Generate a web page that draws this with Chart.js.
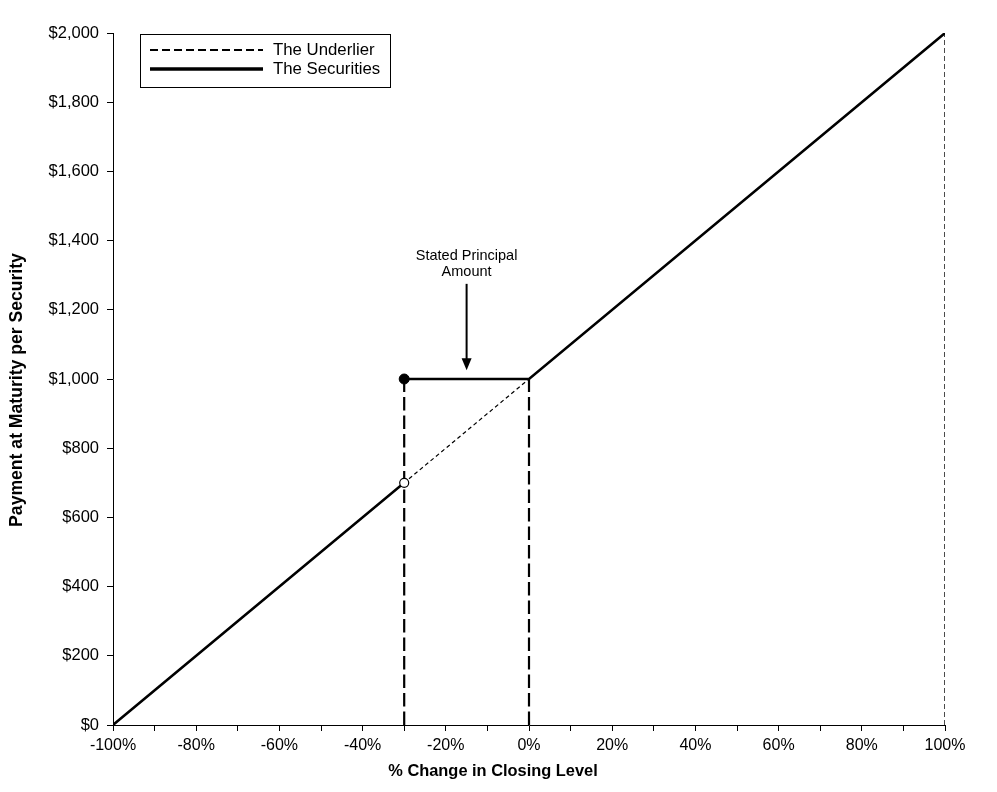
<!DOCTYPE html>
<html>
<head>
<meta charset="utf-8">
<script src="https://cdn.jsdelivr.net/npm/chart.js@4.4.1/dist/chart.umd.min.js"></script>
<style>
body { margin: 0; background: #fff; }
#wrap { width: 997px; height: 792px; position: relative; }
</style>
</head>
<body>
<div id="wrap"><canvas id="payoffChart"></canvas></div>
<script>
// % change in closing level of the underlier
const underlierX = [-100, -30, 0, 100];
const underlierY = [0, 700, 1000, 2000];

// payment at maturity per security (null = jump at the buffer)
const securitiesX = [-100, -30, -30, -30, 0, 100];
const securitiesY = [0, 700, null, 1000, 1000, 2000];

// guide lines (x position, top value)
const guideX = [-30, 0];
const guideTop = [1000, 1000];
const rightEdgeX = [100, 100];
const rightEdgeY = [0, 2000];

const xTickValues = [-100, -80, -60, -40, -20, 0, 20, 40, 60, 80, 100];
const yTickStep = 200;

const annotationText = ["Stated Principal", "Amount"];

const font = "'Liberation Sans', Arial, sans-serif";

function pts(xs, ys) {
  return xs.map((x, i) => ({ x: x, y: ys[i] }));
}

const guideSets = guideX.map((x, i) => ({
  label: "guide" + i,
  data: pts([x, x], [0, guideTop[i]]),
  borderColor: "#000",
  borderWidth: 2.2,
  borderDash: [13.5, 5],
  pointRadius: 0,
  order: 3
}));

const extras = {
  id: "extras",
  afterDraw(chart) {
    const c = chart.ctx;
    const xs = chart.scales.x;
    const ys = chart.scales.y;
    c.save();

    // legend box
    c.lineWidth = 1;
    c.strokeStyle = "#000";
    c.strokeRect(140.5, 34.5, 250, 53);
    c.beginPath();
    c.setLineDash([8, 4]);
    c.lineWidth = 2;
    c.moveTo(150, 50);
    c.lineTo(263, 50);
    c.stroke();
    c.setLineDash([]);
    c.beginPath();
    c.lineWidth = 3.5;
    c.moveTo(150, 69);
    c.lineTo(263, 69);
    c.stroke();
    c.fillStyle = "#000";
    c.font = "16.8px " + font;
    c.textBaseline = "middle";
    c.textAlign = "left";
    c.fillText("The Underlier", 273, 50);
    c.fillText("The Securities", 273, 69);

    // annotation + arrow
    const ax = xs.getPixelForValue(-15);
    c.font = "14.5px " + font;
    c.textAlign = "center";
    c.fillText(annotationText[0], ax, ys.getPixelForValue(1355));
    c.fillText(annotationText[1], ax, ys.getPixelForValue(1308));
    const top = ys.getPixelForValue(1275);
    const tip = ys.getPixelForValue(1025);
    c.beginPath();
    c.lineWidth = 2;
    c.moveTo(ax, top);
    c.lineTo(ax, tip - 8);
    c.stroke();
    c.beginPath();
    c.moveTo(ax, tip);
    c.lineTo(ax - 5, tip - 12);
    c.lineTo(ax + 5, tip - 12);
    c.closePath();
    c.fill();

    // axis titles
    c.font = "bold 16.4px " + font;
    c.textAlign = "center";
    c.fillText("% Change in Closing Level", 493, 771);
    c.font = "bold 17.6px " + font;
    c.translate(17, 390);
    c.rotate(-Math.PI / 2);
    c.fillText("Payment at Maturity per Security", 0, 0);
    c.restore();
  }
};

const bg = {
  id: "bg",
  beforeDraw(chart) {
    const c = chart.ctx;
    c.save();
    c.fillStyle = "#fff";
    c.fillRect(0, 0, chart.width, chart.height);
    c.restore();
  }
};

new Chart(document.getElementById("payoffChart"), {
  type: "line",
  data: {
    datasets: [
      {
        label: "The Securities",
        data: pts(securitiesX, securitiesY),
        borderColor: "#000",
        borderWidth: 2.5,
        pointRadius: 0,
        spanGaps: false,
        order: 1
      },
      {
        label: "The Underlier",
        data: pts(underlierX, underlierY),
        borderColor: "#000",
        borderWidth: 1.2,
        borderDash: [4, 3],
        pointRadius: 0,
        order: 2
      },
      ...guideSets,
      {
        label: "edge",
        data: pts(rightEdgeX, rightEdgeY),
        borderColor: "#000",
        borderWidth: 1.4,
        borderDash: [5, 3],
        pointRadius: 0,
        order: 3
      },
      {
        label: "open",
        data: pts([securitiesX[1]], [securitiesY[1]]),
        showLine: false,
        pointRadius: 4.5,
        pointBackgroundColor: "#fff",
        pointBorderColor: "#000",
        pointBorderWidth: 1.2,
        order: 0
      },
      {
        label: "closed",
        data: pts([securitiesX[3]], [securitiesY[3]]),
        showLine: false,
        pointRadius: 5,
        pointBackgroundColor: "#000",
        pointBorderColor: "#000",
        order: 0
      }
    ]
  },
  options: {
    responsive: true,
    maintainAspectRatio: false,
    animation: false,
    layout: { padding: { top: 33, right: 52, left: 0, bottom: 0 } },
    plugins: { legend: { display: false }, tooltip: { enabled: false } },
    scales: {
      x: {
        type: "linear",
        min: -100,
        max: 100,
        afterFit: (s) => { s.height = 67; },
        border: { color: "#000", width: 1 },
        grid: { drawOnChartArea: false, drawTicks: true, tickLength: 6, color: "#000" },
        ticks: {
          stepSize: 10,
          autoSkip: false,
          maxRotation: 0,
          padding: 5,
          color: "#000",
          font: { family: font, size: 16 },
          callback: (v) => xTickValues.includes(v) ? v + "%" : ""
        }
      },
      y: {
        min: 0,
        max: 2000,
        afterFit: (s) => { s.width = 113; },
        border: { color: "#000", width: 1 },
        grid: { drawOnChartArea: false, drawTicks: true, tickLength: 6, color: "#000" },
        ticks: {
          stepSize: yTickStep,
          padding: 8,
          color: "#000",
          font: { family: font, size: 16.5 },
          callback: (v) => "$" + v.toLocaleString("en-US")
        }
      }
    }
  },
  plugins: [bg, extras]
});
</script>
</body>
</html>
